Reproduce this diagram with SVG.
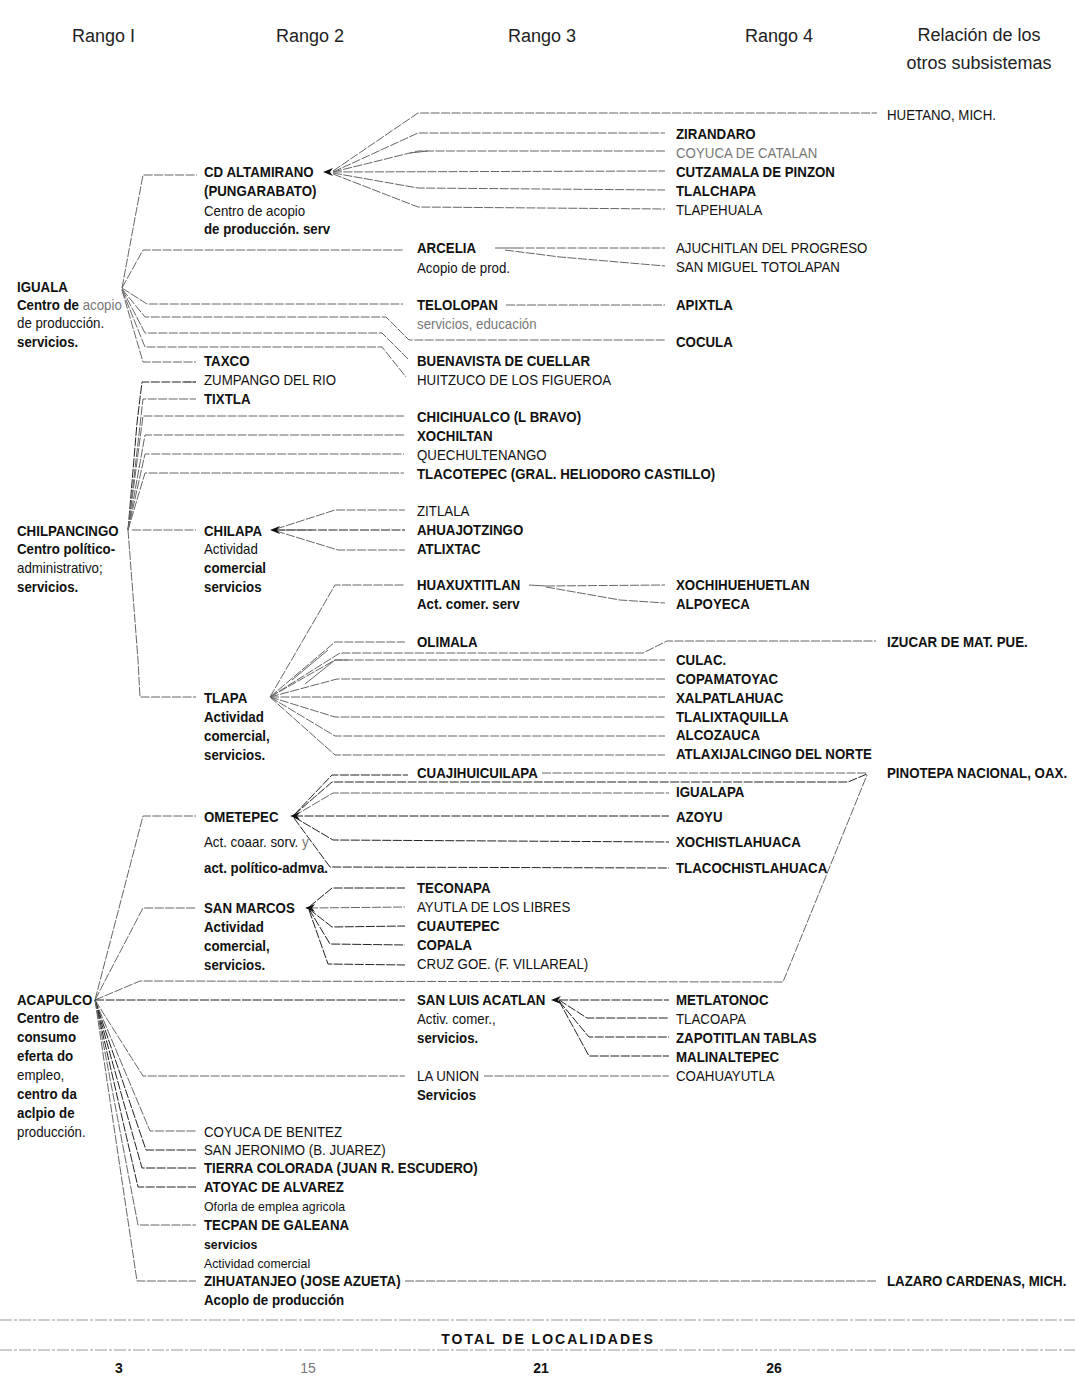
<svg xmlns="http://www.w3.org/2000/svg" xmlns:xlink="http://www.w3.org/1999/xlink" width="1075" height="1378" viewBox="0 0 1075 1378">
<style>
.t{font-family:"Liberation Sans Narrow","Liberation Sans",Arial,sans-serif;font-size:14px;fill:#111}
.s text{transform-box:fill-box;transform-origin:0 50%;transform:scaleX(0.95)}
.b{font-weight:bold}
.g{fill:#777}
.h{font-size:18px;fill:#222}
.c{fill:none;stroke:#666;stroke-width:1}
.d{stroke-dasharray:9 1.5}
.k{stroke:#222}
.sep{fill:none;stroke:#999;stroke-width:1;stroke-dasharray:12 2 3 2}
</style>
<defs>
<path id="arr" d="M0,0 L10,-4 L7,0 L10,4 Z" fill="#111"/>
</defs>
<rect width="1075" height="1378" fill="#fff"/>

<g id="header" class="t h">
<text x="72" y="42">Rango I</text>
<text x="276" y="42">Rango 2</text>
<text x="508" y="42">Rango 3</text>
<text x="745" y="42">Rango 4</text>
<text x="979" y="41" text-anchor="middle">Relación de los</text>
<text x="979" y="69" text-anchor="middle">otros subsistemas</text>
</g>

<g id="connectors">
<!-- Iguala -->
<polyline class="c d" points="122,288 143,175 197,175"/>
<polyline class="c d" points="122,288 143,250 403,250"/>
<polyline class="c d" points="122,288 147,304 403,304"/>
<polyline class="c d" points="122,289 145,317 386,317 409,340 665,340"/>
<polyline class="c d" points="122,289 145,333 382,333 408,359"/>
<polyline class="c d" points="122,290 145,347 382,347 406,377"/>
<polyline class="c d" points="122,290 143,362 196,362"/>
<!-- CD Altamirano -->
<polyline class="c d" points="333,171 418,113 877,113"/>
<polyline class="c d" points="333,172 418,133 665,133"/>
<polyline class="c d" points="333,172 418,151 665,151"/>
<polyline class="c" points="410,153 428,151" stroke="#111" stroke-width="2"/>
<polyline class="c d" points="333,172 665,171"/>
<polyline class="c d" points="333,173 418,188 665,190"/>
<polyline class="c d" points="333,174 418,207 665,209"/>
<!-- Arcelia, Telolopan -->
<polyline class="c" points="495,248 515,248" stroke="#111" stroke-width="2"/>
<polyline class="c d" points="515,248 665,248"/>
<polyline class="c d" points="505,250 560,257 665,266"/>
<polyline class="c d" points="506,305 665,305"/>
<!-- Chilpancingo -->
<polyline class="c d k" points="128,530 137,423 142,382 196,382"/>
<polyline class="c" points="184,382 196,382" stroke="#111" stroke-width="2"/>
<polyline class="c d" points="128,530 143,399 196,399"/>
<polyline class="c d" points="128,530 143,416 404,416"/>
<polyline class="c d" points="128,530 145,435 404,435"/>
<polyline class="c d" points="128,530 145,454 404,454"/>
<polyline class="c d" points="128,530 145,473 404,473"/>
<polyline class="c d" points="132,530 196,530"/>
<polyline class="c d" points="128,530 138,660 140,697 196,697"/>
<!-- Chilapa -->
<polyline class="c d" points="276,529 335,510 405,510"/>
<polyline class="c d k" points="276,530 405,530"/>
<polyline class="c" points="276,530 312,530" stroke="#111" stroke-width="2"/>
<polyline class="c d" points="276,531 338,550 405,550"/>
<!-- Tlapa -->
<polyline class="c d" points="270,697 335,585 405,585"/>
<polyline class="c d" points="270,697 335,642 405,642"/>
<polyline class="c d" points="270,697 340,653 643,653 667,641 876,641"/>
<polyline class="c" points="292,680 328,650" stroke="#111" stroke-width="1.5"/>
<polyline class="c" points="305,684 335,660 348,660" stroke="#111" stroke-width="1.5"/>
<polyline class="c d" points="270,697 335,660 665,660"/>
<polyline class="c d" points="270,697 337,679 665,679"/>
<polyline class="c d" points="270,697 665,697"/>
<polyline class="c d" points="270,697 335,717 665,717"/>
<polyline class="c d" points="270,697 335,736 665,736"/>
<polyline class="c d" points="270,697 335,755 665,755"/>
<!-- Huaxuxtitlan -->
<polyline class="c" points="529,585 546,586" stroke-width="2.5" stroke="#111"/>
<polyline class="c d" points="546,586 665,585"/>
<polyline class="c d" points="546,587 620,600 665,603"/>
<!-- Acapulco -->
<polyline class="c d" points="95,1000 143,816 196,816"/>
<polyline class="c d" points="95,1000 143,908 196,908"/>
<polyline class="c d" points="95,1000 140,981 783,982 867,775"/>
<polyline class="c d k" points="95,1000 405,1000"/>
<polyline class="c d" points="95,1000 143,1076 405,1076"/>
<polyline class="c d" points="95,1000 150,1131 196,1131"/>
<polyline class="c d k" points="95,1000 146,1150 196,1150"/>
<polyline class="c d k" points="95,1000 142,1168 196,1168"/>
<polyline class="c d k" points="95,1000 138,1187 196,1187"/>
<polyline class="c d" points="95,1000 138,1225 196,1225"/>
<polyline class="c d" points="95,1000 137,1281 196,1281"/>
<!-- Ometepec -->
<polyline class="c d k" points="294,815 332,775 408,775"/>
<polyline class="c d k" points="294,815 332,782 848,782 867,774"/>
<polyline class="c d" points="294,816 333,793 669,793"/>
<polyline class="c d k" points="294,816 669,816"/>
<polyline class="c d k" points="294,817 333,840 669,842"/>
<polyline class="c d k" points="294,818 330,867 669,868"/>
<polyline class="c d" points="542,773 867,773"/>
<!-- San Marcos -->
<polyline class="c d k" points="309,907 332,888 405,888"/>
<polyline class="c d" points="309,908 405,907"/>
<polyline class="c d k" points="309,909 332,927 405,926"/>
<polyline class="c d k" points="309,909 330,944 405,945"/>
<polyline class="c d k" points="309,910 328,964 405,965"/>
<!-- San Luis Acatlan -->
<polyline class="c d k" points="559,1000 669,1000"/>
<polyline class="c d k" points="559,1000 587,1018 669,1018"/>
<polyline class="c d k" points="559,1001 589,1037 669,1037"/>
<polyline class="c d k" points="559,1001 589,1056 669,1056"/>
<!-- La Union, Zihuatanejo -->
<polyline class="c d" points="484,1076 669,1076"/>
<polyline class="c d" points="405,1281 876,1281"/>
<!-- arrowheads -->
<use xlink:href="#arr" x="323" y="172"/>
<use xlink:href="#arr" x="270" y="530"/>
<use xlink:href="#arr" x="290" y="816"/>
<use xlink:href="#arr" x="305" y="908"/>
<use xlink:href="#arr" x="551" y="1000"/>
</g>

<g class="s">
<g id="n-iguala" class="t">
<text x="17" y="292" class="b">IGUALA</text>
<text x="17" y="310" class="b">Centro de <tspan class="g" font-weight="normal">acopio</tspan></text>
<text x="17" y="328">de producción.</text>
<text x="17" y="347" class="b">servicios.</text>
</g>
<g id="n-altamirano" class="t">
<text x="204" y="177" class="b">CD  ALTAMIRANO</text>
<text x="204" y="196" class="b">(PUNGARABATO)</text>
<text x="204" y="216">Centro de acopio</text>
<text x="204" y="234" class="b">de producción. serv</text>
</g>
<g id="n-huetano" class="t"><text x="887" y="120">HUETANO, MICH.</text></g>
<g id="n-zirandaro" class="t"><text x="676" y="139" class="b">ZIRANDARO</text></g>
<g id="n-coyuca-catalan" class="t"><text x="676" y="158" class="g">COYUCA DE CATALAN</text></g>
<g id="n-cutzamala" class="t"><text x="676" y="177" class="b">CUTZAMALA DE PINZON</text></g>
<g id="n-tlalchapa" class="t"><text x="676" y="196" class="b">TLALCHAPA</text></g>
<g id="n-tlapehuala" class="t"><text x="676" y="215">TLAPEHUALA</text></g>
<g id="n-arcelia" class="t">
<text x="417" y="253" class="b">ARCELIA</text>
<text x="417" y="273">Acopio de prod.</text>
</g>
<g id="n-ajuchitlan" class="t"><text x="676" y="253">AJUCHITLAN DEL PROGRESO</text></g>
<g id="n-sanmiguel" class="t"><text x="676" y="272">SAN MIGUEL TOTOLAPAN</text></g>
<g id="n-telolopan" class="t">
<text x="417" y="310" class="b">TELOLOPAN</text>
<text x="417" y="329" class="g">servicios, educación</text>
</g>
<g id="n-apixtla" class="t"><text x="676" y="310" class="b">APIXTLA</text></g>
<g id="n-cocula" class="t"><text x="676" y="347" class="b">COCULA</text></g>
<g id="n-buenavista" class="t"><text x="417" y="366" class="b">BUENAVISTA DE CUELLAR</text></g>
<g id="n-huitzuco" class="t"><text x="417" y="385">HUITZUCO DE LOS FIGUEROA</text></g>
<g id="n-taxco" class="t"><text x="204" y="366" class="b">TAXCO</text></g>
<g id="n-zumpango" class="t"><text x="204" y="385">ZUMPANGO DEL RIO</text></g>
<g id="n-tixtla" class="t"><text x="204" y="404" class="b">TIXTLA</text></g>
<g id="n-chicihualco" class="t"><text x="417" y="422" class="b">CHICIHUALCO (L  BRAVO)</text></g>
<g id="n-xochiltan" class="t"><text x="417" y="441" class="b">XOCHILTAN</text></g>
<g id="n-quechultenango" class="t"><text x="417" y="460">QUECHULTENANGO</text></g>
<g id="n-tlacotepec" class="t"><text x="417" y="479" class="b">TLACOTEPEC (GRAL. HELIODORO CASTILLO)</text></g>
<g id="n-zitlala" class="t"><text x="417" y="516">ZITLALA</text></g>
<g id="n-ahuajotzingo" class="t"><text x="417" y="535" class="b">AHUAJOTZINGO</text></g>
<g id="n-atlixtac" class="t"><text x="417" y="554" class="b">ATLIXTAC</text></g>
<g id="n-chilpancingo" class="t">
<text x="17" y="536" class="b">CHILPANCINGO</text>
<text x="17" y="554" class="b">Centro político-</text>
<text x="17" y="573">administrativo;</text>
<text x="17" y="592" class="b">servicios.</text>
</g>
<g id="n-chilapa" class="t">
<text x="204" y="536" class="b">CHILAPA</text>
<text x="204" y="554">Actividad</text>
<text x="204" y="573" class="b">comercial</text>
<text x="204" y="592" class="b">servicios</text>
</g>
<g id="n-huaxuxtitlan" class="t">
<text x="417" y="590" class="b">HUAXUXTITLAN</text>
<text x="417" y="609" class="b">Act. comer. serv</text>
</g>
<g id="n-xochihuehuetlan" class="t"><text x="676" y="590" class="b">XOCHIHUEHUETLAN</text></g>
<g id="n-alpoyeca" class="t"><text x="676" y="609" class="b">ALPOYECA</text></g>
<g id="n-olimala" class="t"><text x="417" y="647" class="b">OLIMALA</text></g>
<g id="n-izucar" class="t"><text x="887" y="647" class="b">IZUCAR DE MAT. PUE.</text></g>
<g id="n-culac" class="t"><text x="676" y="665" class="b">CULAC.</text></g>
<g id="n-copamatoyac" class="t"><text x="676" y="684" class="b">COPAMATOYAC</text></g>
<g id="n-xalpatlahuac" class="t"><text x="676" y="703" class="b">XALPATLAHUAC</text></g>
<g id="n-tlalixtaquilla" class="t"><text x="676" y="722" class="b">TLALIXTAQUILLA</text></g>
<g id="n-alcozauca" class="t"><text x="676" y="740" class="b">ALCOZAUCA</text></g>
<g id="n-atlaxijalcingo" class="t"><text x="676" y="759" class="b">ATLAXIJALCINGO DEL NORTE</text></g>
<g id="n-tlapa" class="t">
<text x="204" y="703" class="b">TLAPA</text>
<text x="204" y="722" class="b">Actividad</text>
<text x="204" y="741" class="b">comercial,</text>
<text x="204" y="760" class="b">servicios.</text>
</g>
<g id="n-cuajihuicuilapa" class="t"><text x="417" y="778" class="b">CUAJIHUICUILAPA</text></g>
<g id="n-pinotepa" class="t"><text x="887" y="778" class="b">PINOTEPA NACIONAL, OAX.</text></g>
<g id="n-igualapa" class="t"><text x="676" y="797" class="b">IGUALAPA</text></g>
<g id="n-ometepec" class="t">
<text x="204" y="822" class="b">OMETEPEC</text>
<text x="204" y="847">Act. coaar. sorv. <tspan class="g">y</tspan></text>
<text x="204" y="873" class="b">act. político-admva.</text>
</g>
<g id="n-azoyu" class="t"><text x="676" y="822" class="b">AZOYU</text></g>
<g id="n-xochistlahuaca" class="t"><text x="676" y="847" class="b">XOCHISTLAHUACA</text></g>
<g id="n-tlacochistlahuaca" class="t"><text x="676" y="873" class="b">TLACOCHISTLAHUACA</text></g>
<g id="n-teconapa" class="t"><text x="417" y="893" class="b">TECONAPA</text></g>
<g id="n-sanmarcos" class="t">
<text x="204" y="913" class="b">SAN MARCOS</text>
<text x="204" y="932" class="b">Actividad</text>
<text x="204" y="951" class="b">comercial,</text>
<text x="204" y="970" class="b">servicios.</text>
</g>
<g id="n-ayutla" class="t"><text x="417" y="912">AYUTLA DE LOS LIBRES</text></g>
<g id="n-cuautepec" class="t"><text x="417" y="931" class="b">CUAUTEPEC</text></g>
<g id="n-copala" class="t"><text x="417" y="950" class="b">COPALA</text></g>
<g id="n-cruzgoe" class="t"><text x="417" y="969">CRUZ GOE. (F. VILLAREAL)</text></g>
<g id="n-acapulco" class="t">
<text x="17" y="1005" class="b">ACAPULCO</text>
<text x="17" y="1023" class="b">Centro de</text>
<text x="17" y="1042" class="b">consumo</text>
<text x="17" y="1061" class="b">eferta do</text>
<text x="17" y="1080">empleo,</text>
<text x="17" y="1099" class="b">centro da</text>
<text x="17" y="1118" class="b">aclpio de</text>
<text x="17" y="1137">producción.</text>
</g>
<g id="n-sanluis" class="t">
<text x="417" y="1005" class="b">SAN LUIS ACATLAN</text>
<text x="417" y="1024">Activ. comer.,</text>
<text x="417" y="1043" class="b">servicios.</text>
</g>
<g id="n-metlatonoc" class="t"><text x="676" y="1005" class="b">METLATONOC</text></g>
<g id="n-tlacoapa" class="t"><text x="676" y="1024">TLACOAPA</text></g>
<g id="n-zapotitlan" class="t"><text x="676" y="1043" class="b">ZAPOTITLAN TABLAS</text></g>
<g id="n-malinaltepec" class="t"><text x="676" y="1062" class="b">MALINALTEPEC</text></g>
<g id="n-launion" class="t">
<text x="417" y="1081">LA UNION</text>
<text x="417" y="1100" class="b">Servicios</text>
</g>
<g id="n-coahuayutla" class="t"><text x="676" y="1081">COAHUAYUTLA</text></g>
<g id="n-coyuca-benitez" class="t"><text x="204" y="1137">COYUCA DE BENITEZ</text></g>
<g id="n-sanjeronimo" class="t"><text x="204" y="1155">SAN JERONIMO (B. JUAREZ)</text></g>
<g id="n-tierracolorada" class="t"><text x="204" y="1173" class="b">TIERRA COLORADA (JUAN R. ESCUDERO)</text></g>
<g id="n-atoyac" class="t">
<text x="204" y="1192" class="b">ATOYAC DE ALVAREZ</text>
<text x="204" y="1211" font-size="13">Oforla de emplea agricola</text>
</g>
<g id="n-tecpan" class="t">
<text x="204" y="1230" class="b">TECPAN DE GALEANA</text>
<text x="204" y="1249" class="b" font-size="13">servicios</text>
<text x="204" y="1268" font-size="13">Actividad comercial</text>
</g>
<g id="n-zihuatanejo" class="t">
<text x="204" y="1286" class="b">ZIHUATANJEO (JOSE AZUETA)</text>
<text x="204" y="1305" class="b">Acoplo de producción</text>
</g>
<g id="n-lazaro" class="t"><text x="887" y="1286" class="b">LAZARO CARDENAS, MICH.</text></g>
</g>

<g id="totals" class="t">
<line class="sep" x1="0" y1="1320" x2="1075" y2="1320"/>
<text x="548" y="1344" class="b" text-anchor="middle" letter-spacing="2">TOTAL DE LOCALIDADES</text>
<line class="sep" x1="0" y1="1350" x2="1075" y2="1350"/>
<text x="119" y="1373" class="b" text-anchor="middle">3</text>
<text x="308" y="1373" class="g" text-anchor="middle">15</text>
<text x="541" y="1373" class="b" text-anchor="middle">21</text>
<text x="774" y="1373" class="b" text-anchor="middle">26</text>
</g>
</svg>
